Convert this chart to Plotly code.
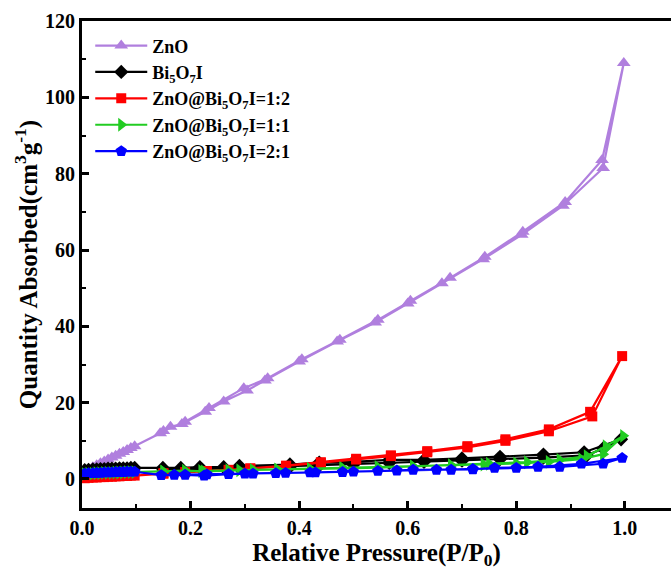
import plotly.graph_objects as go

# ---------------- data ----------------
# ZnO (adsorption followed by desorption)
zno_x = [0.005, 0.012, 0.02, 0.027, 0.034, 0.041, 0.048, 0.055, 0.062, 0.069, 0.076, 0.083, 0.09, 0.097,
         0.144, 0.163, 0.184, 0.227, 0.261, 0.304, 0.337, 0.40, 0.47, 0.54, 0.60, 0.663, 0.739, 0.81, 0.886, 0.96, 0.998,
         0.958, 0.89, 0.812, 0.742, 0.678, 0.605, 0.545, 0.475, 0.405, 0.342, 0.298, 0.234, 0.19, 0.15]
zno_y = [2.0, 2.6, 3.1, 3.6, 4.1, 4.6, 5.1, 5.6, 6.1, 6.6, 7.1, 7.6, 8.1, 8.6,
         12.0, 13.7, 14.4, 17.6, 20.3, 23.2, 25.8, 30.8, 36.0, 41.0, 46.0, 51.3, 57.6, 64.0, 71.6, 81.5, 109.0,
         83.6, 72.6, 64.8, 58.2, 52.7, 46.7, 41.7, 36.5, 31.4, 26.4, 23.8, 18.6, 15.0, 12.6]

# Bi5O7I
bi_x = [0.005, 0.012, 0.02, 0.027, 0.034, 0.041, 0.048, 0.055, 0.062, 0.069, 0.076, 0.083, 0.09, 0.097,
        0.149, 0.182, 0.217, 0.261, 0.29, 0.383, 0.437, 0.50, 0.566, 0.63, 0.70, 0.77, 0.85, 0.925, 0.993,
        0.96, 0.93, 0.85, 0.77, 0.70, 0.63, 0.566, 0.50, 0.437, 0.383, 0.29, 0.22, 0.15]
bi_y = [2.3, 2.4, 2.5, 2.5, 2.6, 2.6, 2.7, 2.7, 2.7, 2.8, 2.8, 2.8, 2.9, 2.9,
        2.9, 2.9, 3.1, 3.1, 3.4, 3.8, 4.3, 4.5, 5.0, 5.0, 5.4, 5.8, 6.4, 7.0, 10.4,
        8.0, 6.2, 5.6, 5.2, 4.8, 4.5, 4.2, 3.8, 3.5, 3.2, 2.9, 2.6, 2.4]

# ZnO@Bi5O7I = 1:2
r12_x = [0.005, 0.012, 0.02, 0.027, 0.034, 0.041, 0.048, 0.055, 0.062, 0.069, 0.076, 0.083, 0.09, 0.097,
         0.15, 0.19, 0.23, 0.27, 0.31, 0.376, 0.44, 0.505, 0.569, 0.636, 0.71, 0.78, 0.86, 0.936, 0.995,
         0.94, 0.86, 0.78, 0.71, 0.636, 0.569, 0.505, 0.44, 0.376, 0.31, 0.23, 0.15]
r12_y = [0.2, 0.3, 0.4, 0.4, 0.5, 0.5, 0.6, 0.6, 0.7, 0.7, 0.8, 0.8, 0.9, 0.9,
         1.5, 1.8, 2.1, 2.4, 2.8, 3.5, 4.4, 5.3, 6.2, 7.3, 8.6, 10.4, 13.0, 17.6, 32.2,
         16.4, 12.5, 10.0, 8.3, 7.0, 6.0, 5.1, 4.2, 3.4, 2.7, 2.0, 1.4]

# ZnO@Bi5O7I = 1:1
r11_x = [0.005, 0.012, 0.02, 0.027, 0.034, 0.041, 0.048, 0.055, 0.062, 0.069, 0.076, 0.083, 0.09, 0.097,
         0.15, 0.19, 0.225, 0.27, 0.315, 0.36, 0.42, 0.48, 0.545, 0.61, 0.68, 0.74, 0.80, 0.86, 0.92, 0.96, 0.997,
         0.965, 0.93, 0.88, 0.82, 0.75, 0.68, 0.61, 0.545, 0.48, 0.42, 0.36, 0.29, 0.22, 0.15]
r11_y = [1.3, 1.4, 1.4, 1.5, 1.5, 1.6, 1.6, 1.6, 1.7, 1.7, 1.7, 1.8, 1.8, 1.8,
         2.0, 2.2, 2.0, 2.3, 2.4, 2.5, 2.7, 2.9, 3.1, 3.3, 3.5, 3.8, 4.1, 4.5, 5.2, 6.5, 11.3,
         8.6, 6.0, 5.0, 4.4, 4.0, 3.6, 3.3, 3.0, 2.8, 2.6, 2.4, 2.3, 2.1, 1.9]

# ZnO@Bi5O7I = 2:1
r21_x = [0.005, 0.012, 0.02, 0.027, 0.034, 0.041, 0.048, 0.055, 0.062, 0.069, 0.076, 0.083, 0.09, 0.097,
         0.146, 0.19, 0.225, 0.27, 0.315, 0.357, 0.42, 0.48, 0.545, 0.61, 0.68, 0.72, 0.76, 0.84, 0.92, 0.995,
         0.96, 0.88, 0.80, 0.72, 0.653, 0.58, 0.50, 0.43, 0.375, 0.30, 0.23, 0.17]
r21_y = [1.4, 1.5, 1.5, 1.6, 1.6, 1.7, 1.7, 1.7, 1.8, 1.8, 1.8, 1.9, 1.9, 1.9,
         1.0, 1.1, 0.9, 1.3, 1.4, 1.5, 1.7, 1.8, 2.1, 2.4, 2.4, 2.5, 2.9, 3.2, 4.0, 5.5,
         4.0, 3.2, 2.9, 2.6, 2.4, 2.2, 1.9, 1.7, 1.6, 1.4, 1.2, 1.1]

names = ["ZnO", "Bi<sub>5</sub>O<sub>7</sub>I",
         "ZnO@Bi<sub>5</sub>O<sub>7</sub>I=1:2",
         "ZnO@Bi<sub>5</sub>O<sub>7</sub>I=1:1",
         "ZnO@Bi<sub>5</sub>O<sub>7</sub>I=2:1"]
xs = [zno_x, bi_x, r12_x, r11_x, r21_x]
ys = [zno_y, bi_y, r12_y, r11_y, r21_y]
colors = ["#B07FDE", "#000000", "#FF0000", "#22CC22", "#0000FF"]
symbols = ["triangle-up", "diamond", "square", "triangle-right", "pentagon"]
sizes = [12, 11, 10, 12, 12]

fig = go.Figure()
for i in range(5):
    fig.add_trace(go.Scatter(
        x=xs[i], y=ys[i], mode="lines+markers", name=names[i],
        legendgroup=f"g{i}",
        line=dict(color=colors[i], width=2.2),
        marker=dict(symbol=symbols[i], size=sizes[i], color=colors[i]),
    ))

font_family = "Liberation Serif"
fig.update_layout(
    width=671, height=570,
    margin=dict(l=82, r=0, t=21, b=62),
    paper_bgcolor="white", plot_bgcolor="white",
    font=dict(family=font_family, size=18, color="black", weight="bold"),
    showlegend=True,
    legend=dict(x=0.014, y=0.987, xanchor="left", yanchor="top",
                bgcolor="rgba(0,0,0,0)", borderwidth=0,
                font=dict(family=font_family, size=18, color="black", weight="bold"),
                itemwidth=52, tracegroupgap=0),
)
fig.update_xaxes(
    range=[0, 1.085], showgrid=False, zeroline=False,
    showline=True, linecolor="black", linewidth=3, mirror=True,
    ticks="inside", ticklen=7, tickwidth=2.5, tickcolor="black",
    tickvals=[0.0, 0.2, 0.4, 0.6, 0.8, 1.0], ticktext=["0.0", "0.2", "0.4", "0.6", "0.8", "1.0"],
    minor=dict(ticks="inside", ticklen=4, tickwidth=2, tickcolor="black", dtick=0.1, tick0=0),
    tickfont=dict(family=font_family, size=20, weight="bold"),
    title=dict(text="Relative Pressure(P/P<sub>0</sub>)", standoff=10,
               font=dict(family=font_family, size=25, weight="bold")),
)
fig.update_yaxes(
    range=[-7.6, 120], showgrid=False, zeroline=False,
    showline=True, linecolor="black", linewidth=3, mirror=False,
    ticks="inside", ticklen=7, tickwidth=2.5, tickcolor="black",
    tickvals=[0, 20, 40, 60, 80, 100, 120],
    minor=dict(ticks="inside", ticklen=4, tickwidth=2, tickcolor="black", dtick=10, tick0=0),
    tickfont=dict(family=font_family, size=20, weight="bold"),
    title=dict(text="Quantity Absorbed(cm<sup>3</sup>g<sup>-1</sup>)", standoff=1,
               font=dict(family=font_family, size=25, weight="bold")),
)

fig.write_html("out.html")
